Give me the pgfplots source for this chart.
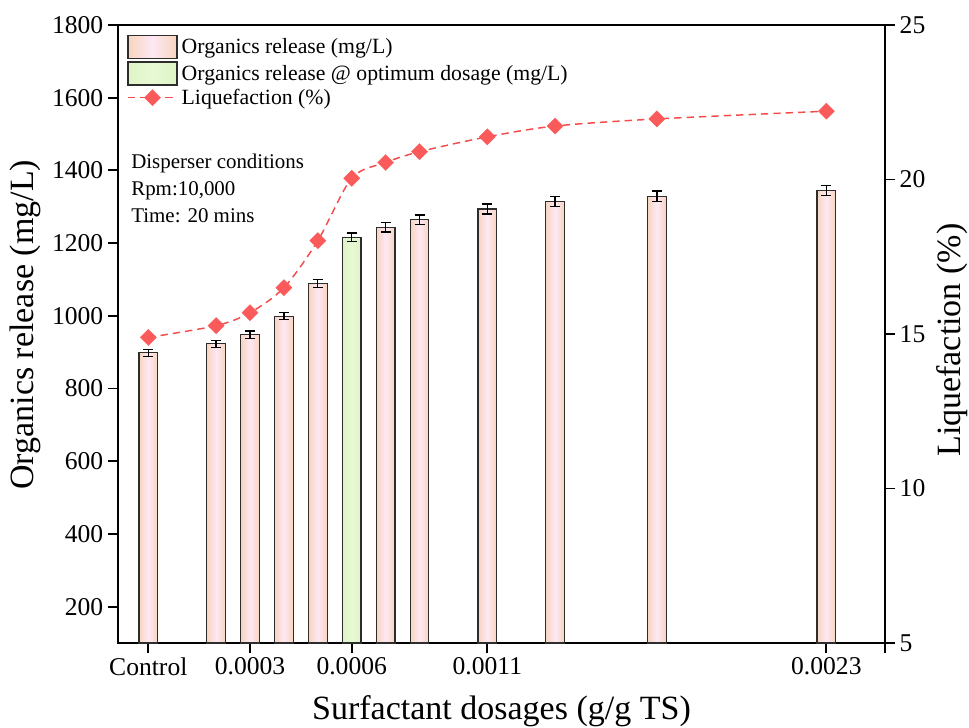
\documentclass[border=0pt]{standalone}
\usepackage{fontspec}
\setmainfont{Liberation Serif}
\usepackage{pgfplots}
\pgfplotsset{compat=1.18}

\definecolor{peach}{RGB}{247,212,190}
\definecolor{pinkc}{RGB}{253,232,244}
\definecolor{greenb}{RGB}{222,244,198}
\definecolor{greenc}{RGB}{232,249,212}
\definecolor{liq}{RGB}{245,75,75}
\definecolor{liqm}{RGB}{250,90,90}
\definecolor{edge}{RGB}{45,45,45}

\newcommand\tickfont{\fontsize{19.2}{22}\selectfont}
\newcommand\labfont{\fontsize{25.5}{30}\selectfont}
\newcommand\legfont{\fontsize{16.3}{19}\selectfont}

\pgfplotsset{
  common/.style={
    scale only axis, width=575.25pt, height=463.5pt,
    xmin=-0.894, xmax=21.73,
    tick align=outside,
    major tick length=7.5pt,
    axis line style={line width=1.4pt, black},
    major tick style={line width=1.4pt, black},
    tick label style={font=\tickfont},
    label style={font=\labfont},
    /pgf/number format/assume math mode=true,
    /pgf/number format/1000 sep={},
  },
  barbase/.style={ybar, bar width=14pt, bar shift=0pt, draw=edge, line width=0.9pt,
    /pgfplots/error bars/y dir=both, /pgfplots/error bars/y explicit,
    /pgfplots/error bars/error bar style={line width=1pt, black},
    /pgfplots/error bars/error mark options={rotate=90, mark size=3.75pt, line width=1pt, black}},
  pbar/.style={barbase, left color=peach, right color=peach, middle color=pinkc},
  gbar/.style={barbase, left color=greenb, right color=greenb, middle color=greenc},
  linelegend/.style={legend image code/.code={
    \draw[mark repeat=2, mark phase=2, ##1] plot coordinates {(0pt,0pt) (18.4pt,0pt) (36.75pt,0pt)};}},
}

\begin{document}
\begin{tikzpicture}
\begin{axis}[common, name=ax,
  ymin=100, ymax=1800, ytick={200,400,...,1800},
  xtick={0,3,6,10,20},
  xticklabels={Control,0.0003,0.0006,0.0011,0.0023},
  extra x ticks={21.73}, extra x tick labels={},
  xtick pos=bottom, ytick pos=left,
  xlabel={Surfactant dosages (g/g TS)},
  ylabel={Organics release (mg/L)},
  xlabel style={at={(axis description cs:0.5,-0.111)}, anchor=center},
  ylabel style={at={(axis description cs:-0.1213,0.515)}, anchor=center},
]
% Organics release (mg/L)
\addplot[pbar] coordinates {(0,898) +- (0,9)};
\addplot[pbar] coordinates {(2,923) +- (0,10)};
\addplot[pbar] coordinates {(3,948) +- (0,10)};
\addplot[pbar] coordinates {(4,999) +- (0,10)};
\addplot[pbar] coordinates {(5,1089) +- (0,11)};
\addplot[gbar] coordinates {(6,1216) +- (0,12)};
\addplot[pbar] coordinates {(7,1244) +- (0,13)};
\addplot[pbar] coordinates {(8,1264) +- (0,13)};
\addplot[pbar] coordinates {(10,1294) +- (0,14)};
\addplot[pbar] coordinates {(12,1314) +- (0,14)};
\addplot[pbar] coordinates {(15,1329) +- (0,14)};
\addplot[pbar] coordinates {(20,1345) +- (0,14)};
\node[anchor=north west, align=left, inner sep=0pt,
  font=\fontsize{15.7}{20.3}\selectfont]
  at (rel axis cs:0.017,0.792)
  {Disperser conditions\\Rpm:10,000\\Time: 20 mins};
\end{axis}

\begin{axis}[common,
  ymin=5, ymax=25, ytick={5,10,...,25},
  hide x axis,
  axis y line*=right,
  ylabel={Liquefaction (\%)},
  ylabel style={at={(axis description cs:1.088,0.49)}, anchor=center},
  legend style={
    at={(rel axis cs:0.0117,0.984)}, anchor=north west,
    draw=none, fill=none, font=\legfont,
    row sep=1.6pt, inner sep=0pt,
    nodes={inner sep=1pt},
  },
  legend cell align=left,
]
\addlegendimage{legend image code/.code={
  \draw[draw=edge, line width=0.9pt, left color=peach, right color=peach, middle color=pinkc]
  (0pt,-8.6pt) rectangle (36.75pt,8.6pt);}}
\addlegendentry{\hspace{2pt}Organics release (mg/L)}
\addlegendimage{legend image code/.code={
  \draw[draw=edge, line width=0.9pt, left color=greenb, right color=greenb, middle color=greenc]
  (0pt,-8.6pt) rectangle (36.75pt,8.6pt);}}
\addlegendentry{\hspace{2pt}Organics release @ optimum dosage (mg/L)}
\addplot[linelegend, color=liq, line width=1.1pt, dash pattern=on 5.5pt off 3.8pt, smooth,
  mark=square*, mark size=4.3pt,
  mark options={solid, rotate=45, fill=liqm, draw=liqm, line width=0.2pt}]
  coordinates {(0,14.89) (2,15.27) (3,15.69) (4,16.50) (5,18.02) (6,20.04)
               (7,20.55) (8,20.90) (10,21.38) (12,21.73) (15,21.96) (20,22.21)};
\addlegendentry{\hspace{2pt}Liquefaction (\%)}
\end{axis}

\pgfresetboundingbox
\path ([shift={(-88.5pt,-63pt)}]ax.south west) rectangle ([shift={(63pt,18.75pt)}]ax.north east);
\end{tikzpicture}
\end{document}
